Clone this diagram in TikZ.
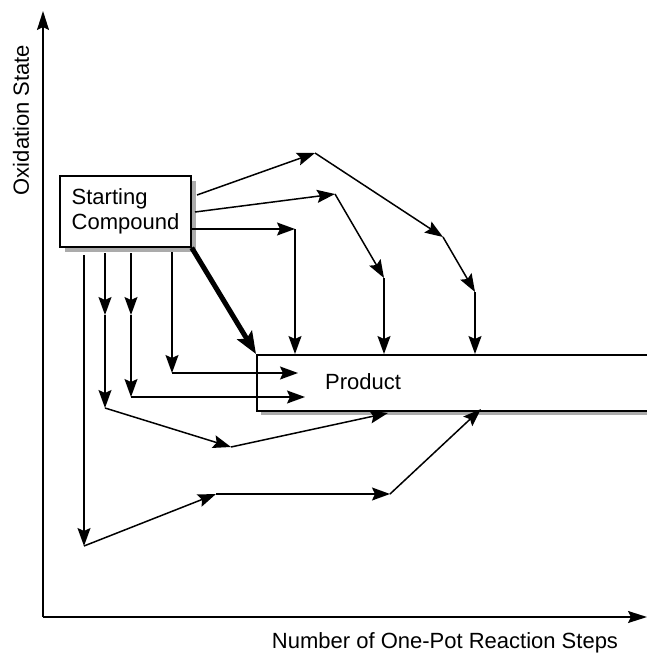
\documentclass[tikz,border=0pt]{standalone}
\usepackage{fontspec}
\setmainfont{Liberation Sans}
\usetikzlibrary{arrows.meta}
\begin{document}
\begin{tikzpicture}[x=1pt,y=-1pt,
  font=\fontsize{22}{24.5}\selectfont,
  conn/.style={line width=1.5pt,-{Stealth[length=18pt,width=13pt,inset=3pt]}},
  axis/.style={line width=1.7pt,-{Stealth[length=19pt,width=12pt,inset=3pt]}},
  boldconn/.style={line width=5pt,-{Stealth[length=22pt,width=17pt,inset=4pt]}},
  shadowc/.style={fill=black!33,draw=none}]
\useasboundingbox (0,0) rectangle (647,654);
% axes
\coordinate (origin) at (43,617);
\coordinate (ytop) at (43,11);
\coordinate (xend) at (647,617);
\draw[axis] (origin) -- (ytop);
\draw[axis] (origin) -- (xend);
\node[rotate=90] (ylab) at (21,120) {Oxidation State};
\node (xlab) at (445,643) {Number of One-Pot Reaction Steps};
% product box with shadow
\fill[shadowc] (261,359) rectangle (670,415);
\node[draw,line width=1.5pt,fill=white,minimum width=420pt,minimum height=56pt,anchor=north west,inner sep=0pt] (prod) at (256,354) {};
\node (prodlab) at (363,382) {Product};
% starting box with shadow
\fill[shadowc] (65,181) rectangle (196,252);
\node[draw,line width=1.5pt,fill=white,minimum width=131pt,minimum height=71pt,align=left,inner sep=0pt] (sc) at (125.5,211.5) {Starting\\Compound};
% thick direct arrow
\draw[boldconn] (sc.south east) -- (prod.north west);
% route A
\coordinate (a0) at (197,195);
\coordinate (a1) at (315,153);
\coordinate (a2) at (443,237);
\coordinate (a3) at (475,292);
\coordinate (a4) at (475,354);
\draw[conn] (a0) -- (a1);
\draw[conn] (a1) -- (a2);
\draw[conn] (a2) -- (a3);
\draw[conn] (a3) -- (a4);
% route B
\coordinate (b0) at (195,212);
\coordinate (b1) at (335,194);
\coordinate (b2) at (384,278);
\coordinate (b3) at (384,354);
\draw[conn] (b0) -- (b1);
\draw[conn] (b1) -- (b2);
\draw[conn] (b2) -- (b3);
% route C
\coordinate (c0) at (192,229);
\coordinate (c1) at (295,229);
\coordinate (c2) at (295,354);
\draw[conn] (c0) -- (c1);
\draw[conn] (c1) -- (c2);
% route D (x=172)
\coordinate (d0) at (172,252);
\coordinate (d1) at (172,373);
\coordinate (d2) at (298,373);
\draw[conn] (d0) -- (d1);
\draw[conn] (d1) -- (d2);
% route E (x=131)
\coordinate (e0) at (131,253);
\coordinate (e1) at (131,315);
\coordinate (e2) at (131,397);
\coordinate (e3) at (305,397);
\draw[conn] (e0) -- (e1);
\draw[conn] (e1) -- (e2);
\draw[conn] (e2) -- (e3);
% route F (x=105)
\coordinate (f0) at (105,253);
\coordinate (f1) at (105,315);
\coordinate (f2) at (105,408);
\coordinate (f3) at (231,447);
\coordinate (f4) at (388,413);
\draw[conn] (f0) -- (f1);
\draw[conn] (f1) -- (f2);
\draw[conn] (f2) -- (f3);
\draw[conn] (f3) -- (f4);
% route G (x=84)
\coordinate (g0) at (84,255);
\coordinate (g1) at (84,546);
\coordinate (g2) at (216,494);
\coordinate (g3) at (390,494);
\coordinate (g4) at (481,409);
\draw[conn] (g0) -- (g1);
\draw[conn] (g1) -- (g2);
\draw[conn] (g2) -- (g3);
\draw[conn] (g3) -- (g4);
\end{tikzpicture}
\end{document}
